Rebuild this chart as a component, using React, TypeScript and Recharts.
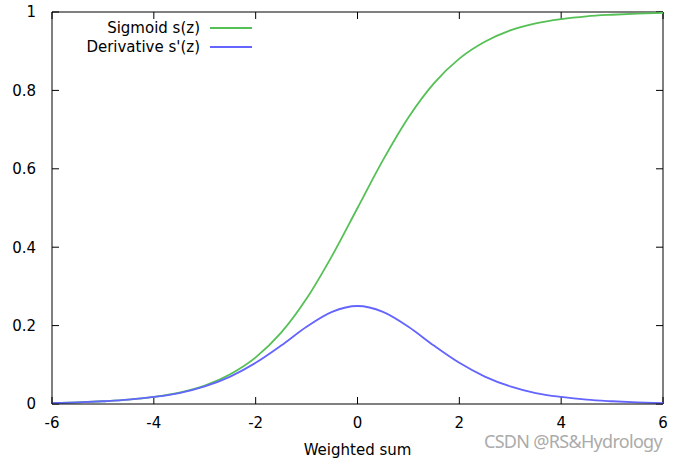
import React from 'react';
import { LineChart, Line, XAxis, YAxis, ReferenceLine } from 'recharts';

const zValues = [-6, -5.5, -5, -4.5, -4, -3.5, -3, -2.5, -2, -1.5, -1, -0.5, 0, 0.5, 1, 1.5, 2, 2.5, 3, 3.5, 4, 4.5, 5, 5.5, 6];
const sigmoidValues = [0.002, 0.004, 0.007, 0.011, 0.018, 0.029, 0.047, 0.076, 0.119, 0.182, 0.269, 0.378, 0.5, 0.622, 0.731, 0.818, 0.881, 0.924, 0.953, 0.971, 0.982, 0.989, 0.993, 0.996, 0.998];
const derivativeValues = [0.002, 0.004, 0.007, 0.011, 0.018, 0.028, 0.045, 0.07, 0.105, 0.149, 0.197, 0.235, 0.25, 0.235, 0.197, 0.149, 0.105, 0.07, 0.045, 0.028, 0.018, 0.011, 0.007, 0.004, 0.002];

const xTicks = [-6, -4, -2, 0, 2, 4, 6];
const yTicks = [0, 0.2, 0.4, 0.6, 0.8, 1];

const series = [
  { key: 'sigmoid', name: 'Sigmoid s(z)', color: '#55c055' },
  { key: 'derivative', name: "Derivative s'(z)", color: '#6464ff' },
];

const data = zValues.map((z, i) => ({
  z,
  sigmoid: sigmoidValues[i],
  derivative: derivativeValues[i],
}));

// tick marks point inward, ~7px long
const xTickLen = (7 / 611) * 12;
const yTickLen = 7 / 392;

const font = 'DejaVu Sans, sans-serif';

export default function App() {
  return (
    <div style={{ position: 'absolute', left: 0, top: 0, width: 675, height: 460, background: '#fff', fontFamily: font }}>
      <LineChart width={675} height={460} data={data} margin={{ top: 12, right: 12, bottom: 0, left: 0 }}>
        <XAxis
          dataKey="z"
          type="number"
          domain={[-6, 6]}
          ticks={xTicks}
          height={56}
          tickLine={false}
          tickMargin={7}
          axisLine={{ stroke: '#000' }}
          tick={{ fill: '#000', fontSize: 15, fontFamily: font }}
          label={{ value: 'Weighted sum', position: 'insideBottom', offset: 5, fill: '#000', fontSize: 15, fontFamily: font }}
        />
        <YAxis
          type="number"
          domain={[0, 1]}
          ticks={yTicks}
          width={52}
          tickLine={false}
          tickMargin={10}
          axisLine={{ stroke: '#000' }}
          tick={{ fill: '#000', fontSize: 15, fontFamily: font }}
        />
        <ReferenceLine y={1} stroke="#000" />
        <ReferenceLine x={6} stroke="#000" />
        {xTicks.map((t) => (
          <ReferenceLine key={'xb' + t} segment={[{ x: t, y: 0 }, { x: t, y: yTickLen }]} stroke="#000" />
        ))}
        {xTicks.map((t) => (
          <ReferenceLine key={'xt' + t} segment={[{ x: t, y: 1 }, { x: t, y: 1 - yTickLen }]} stroke="#000" />
        ))}
        {yTicks.map((t) => (
          <ReferenceLine key={'yl' + t} segment={[{ x: -6, y: t }, { x: -6 + xTickLen, y: t }]} stroke="#000" />
        ))}
        {yTicks.map((t) => (
          <ReferenceLine key={'yr' + t} segment={[{ x: 6, y: t }, { x: 6 - xTickLen, y: t }]} stroke="#000" />
        ))}
        {series.map((s) => (
          <Line
            key={s.key}
            type="monotone"
            dataKey={s.key}
            name={s.name}
            stroke={s.color}
            strokeWidth={1.8}
            dot={false}
            isAnimationActive={false}
          />
        ))}
      </LineChart>
      <div style={{ position: 'absolute', left: 484, top: 434, fontSize: 18, color: '#ababab', fontFamily: 'Noto Sans, sans-serif', letterSpacing: -0.7, lineHeight: '14px', whiteSpace: 'nowrap' }}>
        CSDN @RS&amp;Hydrology
      </div>
      <div style={{ position: 'absolute', left: 40, top: 18, fontSize: 15, color: '#000' }}>
        {series.map((s) => (
          <div key={s.key} style={{ display: 'flex', alignItems: 'center', justifyContent: 'flex-end', height: 19, width: 212 }}>
            <span>{s.name}</span>
            <span style={{ display: 'inline-block', width: 42, height: 2, background: s.color, marginLeft: 10 }} />
          </div>
        ))}
      </div>
    </div>
  );
}
